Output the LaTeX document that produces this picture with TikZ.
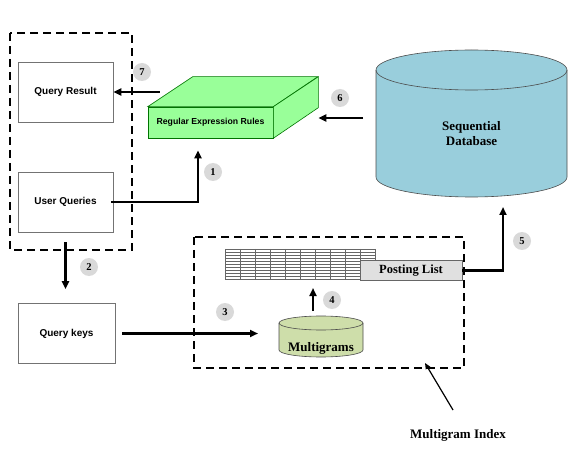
\documentclass[tikz,border=0pt]{standalone}
\usepackage{fontspec}
\setmainfont{Liberation Serif}
\setsansfont{Liberation Sans}
\usetikzlibrary{arrows.meta, positioning}
\definecolor{rulegreen}{RGB}{153,255,153}
\definecolor{dbblue}{RGB}{153,206,220}
\definecolor{mgreen}{RGB}{206,222,170}

\begin{document}
\begin{tikzpicture}[x=1pt,y=-1pt,>={Triangle[length=8pt,width=7pt]}]
  \tikzstyle{box}=[draw=black!55,line width=0.6pt,minimum width=95pt,minimum height=60pt,
    font=\sffamily\bfseries\fontsize{10}{12}\selectfont]
  \tikzstyle{group}=[draw,line width=1.5pt,dash pattern=on 8pt off 5pt]
  \tikzstyle{num}=[circle,fill=black!15,minimum size=18pt,inner sep=0pt,
    font=\bfseries\fontsize{10.5}{12}\selectfont]
  \tikzstyle{flow}=[->,line width=2.2pt]
  \tikzstyle{face}=[draw=green!45!black,line width=0.6pt,fill=rulegreen]
  \tikzstyle{store}=[inner sep=0pt,outer sep=0pt,align=center,font=\bfseries\fontsize{13}{15}\selectfont]
  \tikzstyle{drum}=[draw=black!70,line width=0.6pt]

  \useasboundingbox (0,0) rectangle (581,449);

  % groups
  \draw[group] (10,33) rectangle (132,250);
  \draw[group] (194,237) rectangle (464,368);

  % user side
  \node[box]                   (q_res)   at (65.5,92)    {Query Result};
  \node[box]                   (u_query) at (65.5,202)   {User Queries};
  \node[box,minimum width=97pt] (q_keys) at (66.5,333.5) {Query keys};

  % rules block
  \node[face,minimum width=125pt,minimum height=31pt,inner sep=0pt,
    font=\sffamily\bfseries\fontsize{8.7}{10}\selectfont] (rules) at (210.5,122.5) {Regular Expression Rules};
  \draw[face] (rules.north west) -- ++(45,-30) -- ++(125,0) -- (rules.north east) -- cycle;
  \draw[face] (rules.north east) -- ++(45,-30) -- ++(0,31) -- (rules.south east) -- cycle;

  % sequential database
  \node[store,minimum width=191pt,minimum height=127pt] (seq_db) at (471.5,133.5) {};
  \draw[drum,fill=dbblue] (seq_db.north west) -- ([yshift=20pt]seq_db.south west)
    arc[start angle=180,end angle=360,x radius=95.5pt,y radius=20pt] -- (seq_db.north east)
    arc[start angle=0,end angle=180,x radius=95.5pt,y radius=20pt] -- cycle;
  \draw[drum] (seq_db.north west) arc[start angle=180,end angle=360,x radius=95.5pt,y radius=20pt];
  \node[store] (db_text) at (seq_db.center) {Sequential\\Database};

  % multigrams
  \node[store,minimum width=84pt,minimum height=34pt] (mgrams) at (321,340) {};
  \draw[drum,fill=mgreen] (mgrams.north west) -- ([yshift=7pt]mgrams.south west)
    arc[start angle=180,end angle=360,x radius=42pt,y radius=7pt] -- (mgrams.north east)
    arc[start angle=0,end angle=180,x radius=42pt,y radius=7pt] -- cycle;
  \draw[drum] (mgrams.north west) arc[start angle=180,end angle=360,x radius=42pt,y radius=7pt];
  \node[store,anchor=base] (mg_text) at (321,351) {Multigrams};

  % index table
  \node[minimum width=150pt,minimum height=30pt,inner sep=0pt,outer sep=0pt] (tab) at (300,264) {};
  \foreach \i in {0,...,10}
    \draw[black!60,line width=0.5pt] ([xshift=15*\i pt]tab.north west) -- ([xshift=15*\i pt]tab.south west);
  \foreach \j in {0,...,10}
    \draw[black!60,line width=0.5pt] ([yshift=-3*\j pt]tab.north west) -- ([yshift=-3*\j pt]tab.north east);
  \node[draw=black!60,fill=black!12,line width=0.6pt,minimum width=102pt,minimum height=20pt,inner sep=0pt,
    font=\bfseries\fontsize{12.5}{14}\selectfont] (plist) at (411,270.5) {Posting List};

  % flows
  \draw[flow] ([xshift=-2pt]u_query.east) -| ([xshift=-12.5pt,yshift=-12pt]rules.south);
  \draw[flow] ([yshift=-10pt]u_query.south) -- ([yshift=14pt]u_query.south |- q_keys.north);
  \draw[flow] ([xshift=7pt]q_keys.east) -- ([xshift=-21pt]mgrams.west |- q_keys.east);
  \draw[flow] ([xshift=-8pt,yshift=12pt]mgrams.north) -- ([xshift=13pt,yshift=-9pt]tab.south);
  \draw[flow] (plist.east) -| ([xshift=31.5pt,yshift=-10pt]seq_db.south);
  \draw[flow] ([xshift=-13pt,yshift=15.5pt]seq_db.west) -- ([xshift=45pt,yshift=4.5pt]rules.east);
  \draw[flow] ([xshift=12pt]rules.west |- q_res.east) -- (q_res.east);

  % step numbers
  \node[num] (n_1) at (213,172) {1};
  \node[num] (n_2) at (89,267)  {2};
  \node[num] (n_3) at (225,312) {3};
  \node[num] (n_4) at (332,300) {4};
  \node[num] (n_5) at (522,241) {5};
  \node[num] (n_6) at (340,98)  {6};
  \node[num] (n_7) at (142,72)  {7};

  % index caption
  \node[font=\bfseries\fontsize{13}{15}\selectfont] (idx) at (458,435) {Multigram Index};
  \coordinate (idx_tail) at (453,410);
  \coordinate (idx_tip)  at (425,363);
  \draw[-{Triangle[length=6pt,width=5pt]},line width=1.2pt] (idx_tail) -- (idx_tip);
\end{tikzpicture}
\end{document}
